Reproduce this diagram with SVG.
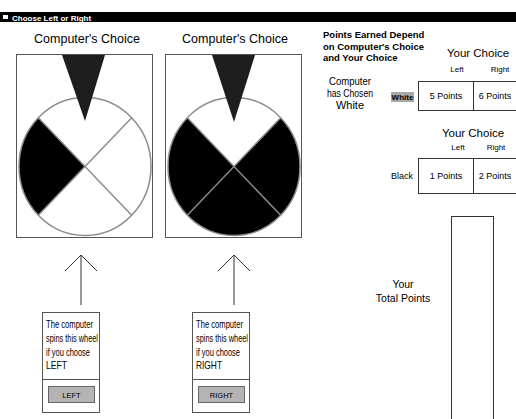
<svg xmlns="http://www.w3.org/2000/svg" width="516" height="419" viewBox="0 0 516 419">
<style>
text{font-family:"Liberation Sans",Arial,sans-serif;fill:#000}
.title{font-size:12.5px}
.box{fill:#fff;stroke:#555;stroke-width:1}
.wheel{stroke:#8c8c8c;stroke-width:1.5}
.blk{fill:#000}
.wht{fill:#fff}
.ptr{fill:#1e1e1e}
.body{font-size:11px}
.btn{fill:#b4b4b4;stroke:#666;stroke-width:1}
.btnt{font-size:7.5px;text-anchor:middle}
.hd{font-size:9.5px;font-weight:bold}
.yc{font-size:11.5px;text-anchor:middle}
.lr{font-size:8px;text-anchor:middle}
.pt{font-size:9px;text-anchor:middle}
.cc{font-size:11.5px;text-anchor:middle}
.cell{fill:#fff;stroke:#333;stroke-width:1}
.conn{stroke:#333;stroke-width:1;fill:none}
</style>
<rect width="516" height="419" fill="#fff"/>
<g id="titlebar">
<rect x="0" y="12" width="516" height="10" fill="#000"/>
<rect x="3" y="15" width="5" height="4" fill="#fff"/>
<text x="12" y="20.5" style="font-size:8px;font-weight:bold;fill:#fff">Choose Left or Right</text>
</g>
<g id="wheel-left">
<text class="title" x="87" y="43" text-anchor="middle">Computer's Choice</text>
<rect class="box" x="16.5" y="54.5" width="136" height="183"/>
<ellipse class="wht" cx="85" cy="166.5" rx="66" ry="69"/>
<path class="blk" d="M85,166.5 L38.3,117.7 A66,69 0 0,0 38.3,215.3 Z"/>
<ellipse class="wheel" fill="none" cx="85" cy="166.5" rx="66" ry="69"/>
<line class="wheel" x1="38.3" y1="117.7" x2="131.7" y2="215.3"/>
<line class="wheel" x1="131.7" y1="117.7" x2="38.3" y2="215.3"/>
<polygon class="ptr" points="62,55 105,55 85,121"/>
</g>
<g id="wheel-right">
<text class="title" x="235" y="43" text-anchor="middle">Computer's Choice</text>
<rect class="box" x="165.5" y="54.5" width="136" height="183"/>
<ellipse class="blk" cx="234" cy="166.5" rx="66" ry="69"/>
<path class="wht" d="M234,166.5 L187.3,117.7 A66,69 0 0,1 280.7,117.7 Z"/>
<ellipse class="wheel" fill="none" cx="234" cy="166.5" rx="66" ry="69"/>
<line class="wheel" x1="187.3" y1="117.7" x2="280.7" y2="215.3"/>
<line class="wheel" x1="280.7" y1="117.7" x2="187.3" y2="215.3"/>
<polygon class="ptr" points="212,55 255,55 234,122"/>
</g>
<g id="connectors">
<path class="conn" d="M81,305 V255 M65,271 L81,255 L97,271"/>
<path class="conn" d="M234,305 V255 M218,271 L234,255 L250,271"/>
</g>
<g id="choose-left">
<rect class="box" x="42.5" y="312.5" width="57" height="100"/>
<line x1="42.5" y1="379.5" x2="99.5" y2="379.5" stroke="#555"/>
<text class="body" x="46" y="328" textLength="47" lengthAdjust="spacingAndGlyphs">The computer</text>
<text class="body" x="46" y="342" textLength="52" lengthAdjust="spacingAndGlyphs">spins this wheel</text>
<text class="body" x="46" y="355.5" textLength="44" lengthAdjust="spacingAndGlyphs">if you choose</text>
<text class="body" x="46" y="369" textLength="21" lengthAdjust="spacingAndGlyphs">LEFT</text>
<rect class="btn" x="48.5" y="386.5" width="46" height="16"/>
<text class="btnt" x="71.5" y="397.5">LEFT</text>
</g>
<g id="choose-right">
<rect class="box" x="192.5" y="312.5" width="57" height="100"/>
<line x1="192.5" y1="379.5" x2="249.5" y2="379.5" stroke="#555"/>
<text class="body" x="196" y="328" textLength="47" lengthAdjust="spacingAndGlyphs">The computer</text>
<text class="body" x="196" y="342" textLength="52" lengthAdjust="spacingAndGlyphs">spins this wheel</text>
<text class="body" x="196" y="355.5" textLength="44" lengthAdjust="spacingAndGlyphs">if you choose</text>
<text class="body" x="196" y="369" textLength="26" lengthAdjust="spacingAndGlyphs">RIGHT</text>
<rect class="btn" x="198.5" y="386.5" width="46" height="16"/>
<text class="btnt" x="221.5" y="397.5">RIGHT</text>
</g>
<g id="points-header">
<text class="hd" x="323" y="38">Points Earned Depend</text>
<text class="hd" x="323" y="49.5">on Computer's Choice</text>
<text class="hd" x="323" y="61">and Your Choice</text>
</g>
<g id="computer-chosen">
<text class="cc" x="350" y="85" textLength="42" lengthAdjust="spacingAndGlyphs">Computer</text>
<text class="cc" x="350" y="97" textLength="46" lengthAdjust="spacingAndGlyphs">has Chosen</text>
<text class="cc" x="350" y="109" textLength="28" lengthAdjust="spacingAndGlyphs">White</text>
</g>
<g id="table-white">
<text class="yc" x="478" y="57">Your Choice</text>
<text class="lr" x="457" y="72">Left</text>
<text class="lr" x="500" y="72">Right</text>
<rect x="391" y="92" width="23" height="10" fill="#a8a8a8"/>
<text x="402.5" y="100" style="font-size:8px;text-anchor:middle;font-weight:bold">White</text>
<rect class="cell" x="418.5" y="81.5" width="55" height="29"/>
<rect class="cell" x="473.5" y="81.5" width="45" height="29"/>
<text class="pt" x="446" y="98.5">5 Points</text>
<text class="pt" x="495" y="98.5">6 Points</text>
</g>
<g id="table-black">
<text class="yc" x="473" y="137">Your Choice</text>
<text class="lr" x="458" y="150">Left</text>
<text class="lr" x="496" y="150">Right</text>
<text x="413" y="179" style="font-size:9px;text-anchor:end">Black</text>
<rect class="cell" x="418.5" y="158.5" width="55" height="35"/>
<rect class="cell" x="473.5" y="158.5" width="45" height="35"/>
<text class="pt" x="446" y="179">1 Points</text>
<text class="pt" x="495" y="179">2 Points</text>
</g>
<g id="total-points">
<text x="403" y="288" style="font-size:10.5px;text-anchor:middle">Your</text>
<text x="403" y="302" style="font-size:10.5px;text-anchor:middle">Total Points</text>
<rect class="cell" x="451.5" y="216.5" width="42" height="210"/>
</g>
</svg>
